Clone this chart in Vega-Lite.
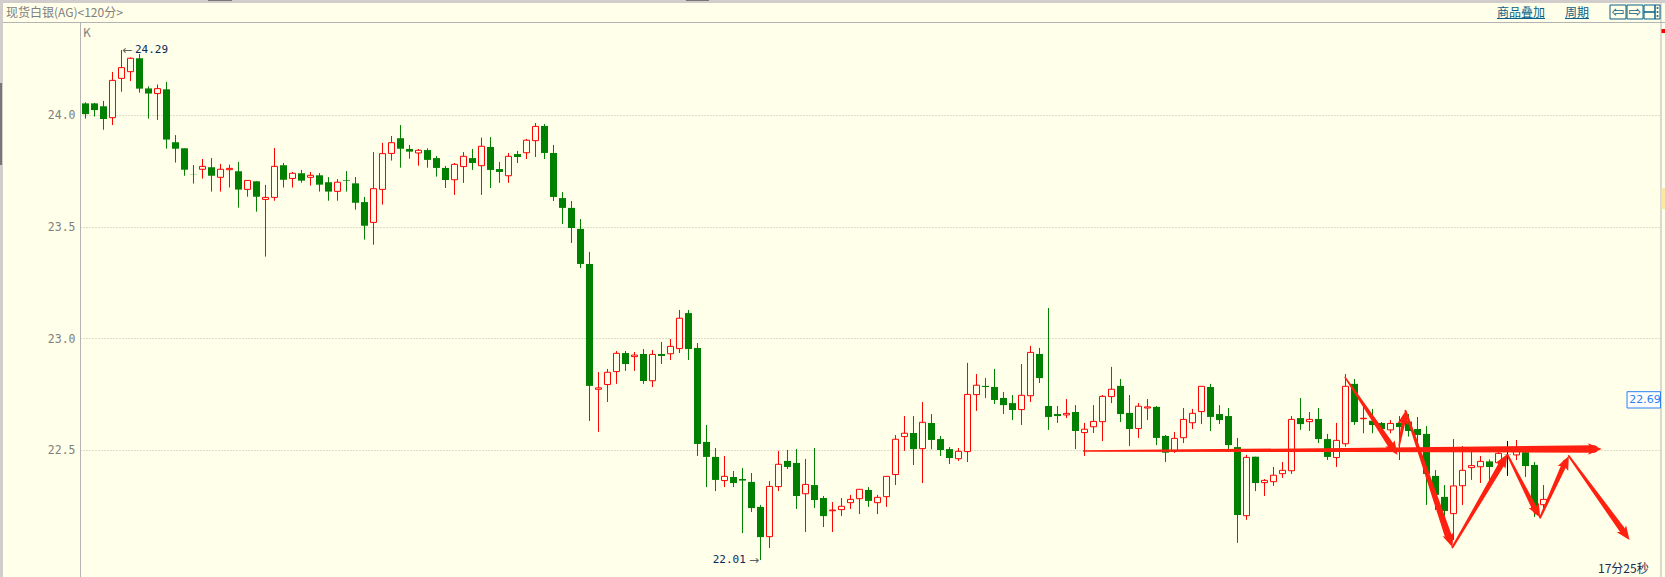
{
"$schema":"https://vega.github.io/schema/vega-lite/v6.json",
"autosize":{"type":"none"},
"padding":{"left":80,"top":22,"right":4,"bottom":0},
"width":1581,"height":555,
"background":"#FFFFEA",
"config":{"view":{"stroke":null}},
"datasets":{
"candles":[
{"i":0,"v":24.057,"t":24.052,"b":24.004,"lo":23.984,"dir":"down"},
{"i":1,"v":24.054,"t":24.052,"b":24.022,"lo":23.993,"dir":"down"},
{"i":2,"v":24.063,"t":24.039,"b":23.982,"lo":23.934,"dir":"down"},
{"i":3,"v":24.193,"t":24.155,"b":23.988,"lo":23.955,"dir":"up"},
{"i":4,"v":24.291,"t":24.212,"b":24.164,"lo":24.104,"dir":"up"},
{"i":5,"v":24.258,"t":24.254,"b":24.194,"lo":24.152,"dir":"up"},
{"i":6,"v":24.273,"t":24.254,"b":24.118,"lo":24.1,"dir":"down"},
{"i":7,"v":24.128,"t":24.119,"b":24.096,"lo":23.984,"dir":"down"},
{"i":8,"v":24.137,"t":24.118,"b":24.096,"lo":23.978,"dir":"up"},
{"i":9,"v":24.148,"t":24.115,"b":23.89,"lo":23.849,"dir":"down"},
{"i":10,"v":23.91,"t":23.878,"b":23.849,"lo":23.787,"dir":"down"},
{"i":11,"v":23.851,"t":23.851,"b":23.755,"lo":23.728,"dir":"down"},
{"i":12,"v":23.776,"t":23.734,"b":23.733,"lo":23.693,"dir":"down"},
{"i":13,"v":23.803,"t":23.77,"b":23.757,"lo":23.715,"dir":"up"},
{"i":14,"v":23.807,"t":23.766,"b":23.728,"lo":23.657,"dir":"down"},
{"i":15,"v":23.781,"t":23.757,"b":23.721,"lo":23.657,"dir":"up"},
{"i":16,"v":23.778,"t":23.761,"b":23.755,"lo":23.675,"dir":"up"},
{"i":17,"v":23.79,"t":23.748,"b":23.666,"lo":23.585,"dir":"down"},
{"i":18,"v":23.707,"t":23.707,"b":23.667,"lo":23.634,"dir":"up"},
{"i":19,"v":23.703,"t":23.703,"b":23.634,"lo":23.567,"dir":"down"},
{"i":20,"v":23.687,"t":23.631,"b":23.622,"lo":23.366,"dir":"up"},
{"i":21,"v":23.852,"t":23.77,"b":23.631,"lo":23.616,"dir":"up"},
{"i":22,"v":23.785,"t":23.775,"b":23.71,"lo":23.675,"dir":"down"},
{"i":23,"v":23.745,"t":23.739,"b":23.716,"lo":23.675,"dir":"up"},
{"i":24,"v":23.754,"t":23.739,"b":23.706,"lo":23.697,"dir":"down"},
{"i":25,"v":23.745,"t":23.73,"b":23.721,"lo":23.684,"dir":"up"},
{"i":26,"v":23.74,"t":23.73,"b":23.688,"lo":23.657,"dir":"down"},
{"i":27,"v":23.722,"t":23.699,"b":23.657,"lo":23.616,"dir":"down"},
{"i":28,"v":23.713,"t":23.699,"b":23.658,"lo":23.616,"dir":"up"},
{"i":29,"v":23.749,"t":23.709,"b":23.706,"lo":23.657,"dir":"down"},
{"i":30,"v":23.722,"t":23.694,"b":23.607,"lo":23.576,"dir":"down"},
{"i":31,"v":23.633,"t":23.61,"b":23.504,"lo":23.442,"dir":"down"},
{"i":32,"v":23.834,"t":23.67,"b":23.519,"lo":23.419,"dir":"up"},
{"i":33,"v":23.875,"t":23.827,"b":23.667,"lo":23.599,"dir":"up"},
{"i":34,"v":23.906,"t":23.876,"b":23.828,"lo":23.796,"dir":"up"},
{"i":35,"v":23.955,"t":23.896,"b":23.849,"lo":23.764,"dir":"down"},
{"i":36,"v":23.866,"t":23.848,"b":23.836,"lo":23.804,"dir":"down"},
{"i":37,"v":23.848,"t":23.842,"b":23.83,"lo":23.773,"dir":"up"},
{"i":38,"v":23.851,"t":23.843,"b":23.799,"lo":23.764,"dir":"down"},
{"i":39,"v":23.816,"t":23.807,"b":23.763,"lo":23.724,"dir":"down"},
{"i":40,"v":23.772,"t":23.763,"b":23.709,"lo":23.673,"dir":"down"},
{"i":41,"v":23.785,"t":23.779,"b":23.71,"lo":23.642,"dir":"up"},
{"i":42,"v":23.834,"t":23.815,"b":23.769,"lo":23.696,"dir":"up"},
{"i":43,"v":23.848,"t":23.807,"b":23.785,"lo":23.754,"dir":"down"},
{"i":44,"v":23.899,"t":23.86,"b":23.773,"lo":23.642,"dir":"up"},
{"i":45,"v":23.901,"t":23.857,"b":23.754,"lo":23.673,"dir":"down"},
{"i":46,"v":23.79,"t":23.758,"b":23.745,"lo":23.696,"dir":"down"},
{"i":47,"v":23.83,"t":23.815,"b":23.728,"lo":23.696,"dir":"up"},
{"i":48,"v":23.839,"t":23.825,"b":23.812,"lo":23.785,"dir":"down"},
{"i":49,"v":23.893,"t":23.887,"b":23.831,"lo":23.803,"dir":"up"},
{"i":50,"v":23.964,"t":23.949,"b":23.885,"lo":23.812,"dir":"up"},
{"i":51,"v":23.96,"t":23.951,"b":23.83,"lo":23.803,"dir":"down"},
{"i":52,"v":23.866,"t":23.83,"b":23.633,"lo":23.615,"dir":"down"},
{"i":53,"v":23.655,"t":23.628,"b":23.584,"lo":23.512,"dir":"down"},
{"i":54,"v":23.615,"t":23.584,"b":23.494,"lo":23.427,"dir":"down"},
{"i":55,"v":23.534,"t":23.49,"b":23.333,"lo":23.315,"dir":"down"},
{"i":56,"v":23.387,"t":23.333,"b":22.787,"lo":22.63,"dir":"down"},
{"i":57,"v":22.849,"t":22.778,"b":22.772,"lo":22.581,"dir":"up"},
{"i":58,"v":22.863,"t":22.848,"b":22.793,"lo":22.715,"dir":"up"},
{"i":59,"v":22.943,"t":22.933,"b":22.851,"lo":22.796,"dir":"up"},
{"i":60,"v":22.943,"t":22.934,"b":22.885,"lo":22.854,"dir":"down"},
{"i":61,"v":22.939,"t":22.925,"b":22.918,"lo":22.854,"dir":"up"},
{"i":62,"v":22.952,"t":22.93,"b":22.809,"lo":22.796,"dir":"down"},
{"i":63,"v":22.948,"t":22.928,"b":22.81,"lo":22.782,"dir":"up"},
{"i":64,"v":22.984,"t":22.93,"b":22.921,"lo":22.885,"dir":"down"},
{"i":65,"v":22.997,"t":22.964,"b":22.931,"lo":22.903,"dir":"up"},
{"i":66,"v":23.127,"t":23.09,"b":22.954,"lo":22.934,"dir":"up"},
{"i":67,"v":23.127,"t":23.113,"b":22.952,"lo":22.903,"dir":"down"},
{"i":68,"v":22.979,"t":22.957,"b":22.527,"lo":22.473,"dir":"down"},
{"i":69,"v":22.612,"t":22.536,"b":22.469,"lo":22.334,"dir":"down"},
{"i":70,"v":22.509,"t":22.469,"b":22.366,"lo":22.316,"dir":"down"},
{"i":71,"v":22.473,"t":22.382,"b":22.363,"lo":22.334,"dir":"up"},
{"i":72,"v":22.406,"t":22.379,"b":22.352,"lo":22.334,"dir":"down"},
{"i":73,"v":22.419,"t":22.37,"b":22.363,"lo":22.128,"dir":"down"},
{"i":74,"v":22.397,"t":22.357,"b":22.24,"lo":22.222,"dir":"down"},
{"i":75,"v":22.254,"t":22.245,"b":22.11,"lo":22.007,"dir":"down"},
{"i":76,"v":22.361,"t":22.337,"b":22.112,"lo":22.061,"dir":"up"},
{"i":77,"v":22.496,"t":22.436,"b":22.336,"lo":22.316,"dir":"up"},
{"i":78,"v":22.5,"t":22.451,"b":22.424,"lo":22.415,"dir":"down"},
{"i":79,"v":22.504,"t":22.442,"b":22.294,"lo":22.236,"dir":"down"},
{"i":80,"v":22.46,"t":22.346,"b":22.304,"lo":22.133,"dir":"up"},
{"i":81,"v":22.509,"t":22.343,"b":22.276,"lo":22.24,"dir":"down"},
{"i":82,"v":22.294,"t":22.285,"b":22.204,"lo":22.155,"dir":"down"},
{"i":83,"v":22.267,"t":22.231,"b":22.228,"lo":22.133,"dir":"up"},
{"i":84,"v":22.285,"t":22.248,"b":22.233,"lo":22.204,"dir":"up"},
{"i":85,"v":22.299,"t":22.279,"b":22.264,"lo":22.236,"dir":"up"},
{"i":86,"v":22.324,"t":22.324,"b":22.282,"lo":22.213,"dir":"up"},
{"i":87,"v":22.334,"t":22.321,"b":22.272,"lo":22.245,"dir":"down"},
{"i":88,"v":22.299,"t":22.288,"b":22.264,"lo":22.213,"dir":"up"},
{"i":89,"v":22.382,"t":22.382,"b":22.291,"lo":22.245,"dir":"up"},
{"i":90,"v":22.567,"t":22.548,"b":22.39,"lo":22.343,"dir":"up"},
{"i":91,"v":22.652,"t":22.575,"b":22.56,"lo":22.496,"dir":"up"},
{"i":92,"v":22.652,"t":22.576,"b":22.504,"lo":22.433,"dir":"down"},
{"i":93,"v":22.715,"t":22.624,"b":22.506,"lo":22.352,"dir":"up"},
{"i":94,"v":22.661,"t":22.621,"b":22.545,"lo":22.503,"dir":"down"},
{"i":95,"v":22.563,"t":22.549,"b":22.5,"lo":22.473,"dir":"down"},
{"i":96,"v":22.513,"t":22.504,"b":22.464,"lo":22.437,"dir":"down"},
{"i":97,"v":22.509,"t":22.494,"b":22.461,"lo":22.451,"dir":"up"},
{"i":98,"v":22.89,"t":22.749,"b":22.493,"lo":22.446,"dir":"up"},
{"i":99,"v":22.84,"t":22.79,"b":22.748,"lo":22.675,"dir":"up"},
{"i":100,"v":22.822,"t":22.787,"b":22.782,"lo":22.733,"dir":"down"},
{"i":101,"v":22.863,"t":22.782,"b":22.724,"lo":22.706,"dir":"down"},
{"i":102,"v":22.76,"t":22.733,"b":22.701,"lo":22.661,"dir":"down"},
{"i":103,"v":22.746,"t":22.71,"b":22.679,"lo":22.634,"dir":"down"},
{"i":104,"v":22.885,"t":22.745,"b":22.681,"lo":22.612,"dir":"up"},
{"i":105,"v":22.966,"t":22.937,"b":22.743,"lo":22.715,"dir":"up"},
{"i":106,"v":22.957,"t":22.93,"b":22.822,"lo":22.8,"dir":"down"},
{"i":107,"v":23.136,"t":22.697,"b":22.648,"lo":22.59,"dir":"down"},
{"i":108,"v":22.697,"t":22.661,"b":22.652,"lo":22.621,"dir":"down"},
{"i":109,"v":22.728,"t":22.664,"b":22.657,"lo":22.643,"dir":"up"},
{"i":110,"v":22.701,"t":22.67,"b":22.585,"lo":22.504,"dir":"down"},
{"i":111,"v":22.621,"t":22.593,"b":22.578,"lo":22.473,"dir":"up"},
{"i":112,"v":22.701,"t":22.628,"b":22.604,"lo":22.576,"dir":"up"},
{"i":113,"v":22.746,"t":22.74,"b":22.627,"lo":22.54,"dir":"up"},
{"i":114,"v":22.872,"t":22.772,"b":22.739,"lo":22.71,"dir":"up"},
{"i":115,"v":22.818,"t":22.787,"b":22.661,"lo":22.625,"dir":"down"},
{"i":116,"v":22.746,"t":22.666,"b":22.594,"lo":22.518,"dir":"down"},
{"i":117,"v":22.71,"t":22.696,"b":22.596,"lo":22.554,"dir":"up"},
{"i":118,"v":22.728,"t":22.693,"b":22.688,"lo":22.634,"dir":"up"},
{"i":119,"v":22.697,"t":22.693,"b":22.554,"lo":22.522,"dir":"down"},
{"i":120,"v":22.567,"t":22.563,"b":22.488,"lo":22.446,"dir":"down"},
{"i":121,"v":22.581,"t":22.552,"b":22.494,"lo":22.487,"dir":"up"},
{"i":122,"v":22.688,"t":22.637,"b":22.555,"lo":22.531,"dir":"up"},
{"i":123,"v":22.684,"t":22.664,"b":22.622,"lo":22.594,"dir":"up"},
{"i":124,"v":22.785,"t":22.785,"b":22.672,"lo":22.616,"dir":"up"},
{"i":125,"v":22.796,"t":22.782,"b":22.648,"lo":22.585,"dir":"down"},
{"i":126,"v":22.701,"t":22.661,"b":22.634,"lo":22.616,"dir":"down"},
{"i":127,"v":22.688,"t":22.652,"b":22.522,"lo":22.5,"dir":"down"},
{"i":128,"v":22.554,"t":22.513,"b":22.209,"lo":22.084,"dir":"down"},
{"i":129,"v":22.478,"t":22.467,"b":22.206,"lo":22.187,"dir":"up"},
{"i":130,"v":22.47,"t":22.47,"b":22.352,"lo":22.316,"dir":"down"},
{"i":131,"v":22.37,"t":22.364,"b":22.354,"lo":22.294,"dir":"up"},
{"i":132,"v":22.424,"t":22.387,"b":22.358,"lo":22.339,"dir":"up"},
{"i":133,"v":22.446,"t":22.409,"b":22.394,"lo":22.375,"dir":"up"},
{"i":134,"v":22.652,"t":22.637,"b":22.407,"lo":22.393,"dir":"up"},
{"i":135,"v":22.733,"t":22.643,"b":22.616,"lo":22.59,"dir":"down"},
{"i":136,"v":22.67,"t":22.637,"b":22.627,"lo":22.585,"dir":"up"},
{"i":137,"v":22.688,"t":22.639,"b":22.549,"lo":22.531,"dir":"down"},
{"i":138,"v":22.572,"t":22.549,"b":22.469,"lo":22.455,"dir":"down"},
{"i":139,"v":22.621,"t":22.543,"b":22.466,"lo":22.424,"dir":"up"},
{"i":140,"v":22.84,"t":22.785,"b":22.528,"lo":22.515,"dir":"up"},
{"i":141,"v":22.818,"t":22.796,"b":22.625,"lo":22.612,"dir":"down"},
{"i":142,"v":22.709,"t":22.642,"b":22.64,"lo":22.575,"dir":"up"},
{"i":143,"v":22.684,"t":22.631,"b":22.612,"lo":22.575,"dir":"down"},
{"i":144,"v":22.625,"t":22.621,"b":22.594,"lo":22.575,"dir":"down"},
{"i":145,"v":22.634,"t":22.619,"b":22.59,"lo":22.575,"dir":"up"},
{"i":146,"v":22.652,"t":22.621,"b":22.603,"lo":22.455,"dir":"down"},
{"i":147,"v":22.661,"t":22.627,"b":22.585,"lo":22.56,"dir":"down"},
{"i":148,"v":22.648,"t":22.594,"b":22.567,"lo":22.515,"dir":"down"},
{"i":149,"v":22.607,"t":22.572,"b":22.393,"lo":22.254,"dir":"down"},
{"i":150,"v":22.41,"t":22.384,"b":22.299,"lo":22.231,"dir":"down"},
{"i":151,"v":22.343,"t":22.29,"b":22.227,"lo":22.187,"dir":"down"},
{"i":152,"v":22.549,"t":22.339,"b":22.215,"lo":22.097,"dir":"up"},
{"i":153,"v":22.518,"t":22.409,"b":22.34,"lo":22.254,"dir":"up"},
{"i":154,"v":22.491,"t":22.43,"b":22.421,"lo":22.366,"dir":"up"},
{"i":155,"v":22.473,"t":22.449,"b":22.425,"lo":22.352,"dir":"up"},
{"i":156,"v":22.458,"t":22.449,"b":22.424,"lo":22.366,"dir":"down"},
{"i":157,"v":22.493,"t":22.485,"b":22.443,"lo":22.433,"dir":"up"},
{"i":158,"v":22.54,"t":22.479,"b":22.478,"lo":22.384,"dir":"flat"},
{"i":159,"v":22.545,"t":22.493,"b":22.478,"lo":22.455,"dir":"up"},
{"i":160,"v":22.515,"t":22.49,"b":22.428,"lo":22.379,"dir":"down"},
{"i":161,"v":22.446,"t":22.433,"b":22.231,"lo":22.2,"dir":"down"},
{"i":162,"v":22.343,"t":22.279,"b":22.255,"lo":22.239,"dir":"up"}
],
"arrows":[
{"arrow":"A","seq":1,"i":110.9,"v":22.4955,"weight":1.5},
{"arrow":"A","seq":2,"i":140,"v":22.5,"weight":4},
{"arrow":"A","seq":3,"i":167.6,"v":22.5045,"weight":7.5},
{"arrow":"B","seq":1,"i":139.96,"v":22.825,"weight":1.5},
{"arrow":"B","seq":2,"i":145.1,"v":22.518,"weight":6},
{"arrow":"C","seq":1,"i":145.96,"v":22.518,"weight":1.5},
{"arrow":"C","seq":2,"i":146.52,"v":22.645,"weight":4.5},
{"arrow":"D","seq":1,"i":146.67,"v":22.675,"weight":2},
{"arrow":"D","seq":2,"i":151.4,"v":22.118,"weight":7},
{"arrow":"E","seq":1,"i":151.89,"v":22.064,"weight":2},
{"arrow":"E","seq":2,"i":157.5,"v":22.448,"weight":6},
{"arrow":"F","seq":1,"i":158,"v":22.478,"weight":2},
{"arrow":"F","seq":2,"i":161.2,"v":22.224,"weight":5.5},
{"arrow":"G","seq":1,"i":161.63,"v":22.197,"weight":2},
{"arrow":"G","seq":2,"i":164.42,"v":22.445,"weight":5.5},
{"arrow":"H","seq":1,"i":164.81,"v":22.473,"weight":2},
{"arrow":"H","seq":2,"i":170.7,"v":22.145,"weight":6}
],
"heads":[
{"arrow":"A","i":168.48,"v":22.5045,"heading":90},
{"arrow":"B","i":145.78,"v":22.478,"heading":146},
{"arrow":"C","i":146.67,"v":22.675,"heading":10.3},
{"arrow":"D","i":151.89,"v":22.064,"heading":161},
{"arrow":"E","i":158,"v":22.482,"heading":30.5},
{"arrow":"F","i":161.63,"v":22.197,"heading":152.5},
{"arrow":"G","i":164.81,"v":22.473,"heading":24.9},
{"arrow":"H","i":171.56,"v":22.097,"heading":144.2}
],
"frame":[
{"part":"edge","i":-9.5,"i2":175.5,"v":24.5149,"v2":24.5015},
{"part":"edge","i":-9.5,"i2":-9.1667,"v":24.5149,"v2":21.9313},
{"part":"dark","i":-9.5,"i2":-9.278,"v":24.1433,"v2":23.7761},
{"part":"dark","i":13.61,"i2":16.28,"v":24.5149,"v2":24.5104},
{"part":"dark","i":66.72,"i2":69.28,"v":24.5149,"v2":24.5104},
{"part":"line","i":-9.1667,"i2":175.5,"v":24.4164,"v2":24.4119},
{"part":"line","i":175.0,"i2":175.11,"v":24.5015,"v2":21.9313},
{"part":"mark","i":175.11,"i2":175.5,"v":24.385,"v2":24.367},
{"part":"tan","i":175.11,"i2":175.5,"v":23.673,"v2":23.579}
],
"boxes":[
{"name":"back","i":169.39,"i2":171.17,"v":24.4925,"v2":24.4299},
{"name":"forward","i":171.28,"i2":173.06,"v":24.4925,"v2":24.4299},
{"name":"layoutA","i":173.17,"i2":174.39,"v":24.4925,"v2":24.4612},
{"name":"layoutB","i":173.17,"i2":174.39,"v":24.4612,"v2":24.4299},
{"name":"layoutC","i":174.39,"i2":174.95,"v":24.4925,"v2":24.4299}
],
"dots":[
{"i":174.67,"v":24.4791},
{"i":174.67,"v":24.4612},
{"i":174.67,"v":24.4433}
],
"underlines":[
{"i":156.83,"i2":162.17,"v":24.4321},
{"i":164.39,"i2":167.06,"v":24.4321}
],
"priceBox":[{"i":171.28,"i2":175.0,"v":22.761,"v2":22.688}],
"notes":[
{"kind":"head","i":-8.833,"v":24.4567,"label":"现货白银(AG)<120分>"},
{"kind":"link","i":156.83,"v":24.4567,"label":"商品叠加"},
{"kind":"link","i":164.39,"v":24.4567,"label":"周期"},
{"kind":"icon","i":170.28,"v":24.4612,"label":"⇦"},
{"kind":"icon","i":172.17,"v":24.4612,"label":"⇨"},
{"kind":"k","i":-0.28,"v":24.367,"label":"K"},
{"kind":"pointer","i":4.11,"v":24.289,"label":"←"},
{"kind":"extreme","i":5.5,"v":24.289,"label":"24.29"},
{"kind":"extreme","i":69.69,"v":22.0074,"label":"22.01"},
{"kind":"pointer","i":73.72,"v":22.0074,"label":"→"},
{"kind":"price","i":171.53,"v":22.7239,"label":"22.69"},
{"kind":"timer","i":168.06,"v":21.968,"label":"17分25秒"}
]
},
"encoding":{
 "x":{"field":"i","type":"quantitative","scale":{"domain":[-0.6111,175.056],"nice":false,"zero":false,"padding":0},"axis":null},
 "y":{"field":"v","type":"quantitative","scale":{"domain":[21.9313,24.4164],"nice":false,"zero":false},
  "axis":{"values":[22.5,23,23.5,24],"format":".1f","title":null,"orient":"left","ticks":false,"labelPadding":5,"labelOffset":1,"labelColor":"#808080","labelFont":"DejaVu Sans Mono","labelFontSize":11.5,"domainColor":"#B4B4B4","domainWidth":1,"grid":true,"gridColor":"#BDBDAD","gridDash":[1,2],"gridWidth":1}}
},
"layer":[
{"data":{"name":"frame"},"mark":{"type":"rect"},
 "encoding":{
  "x2":{"field":"i2"},
  "y2":{"field":"v2"},
  "color":{"field":"part","type":"nominal","legend":null,"scale":{"domain":["edge","dark","line","mark","tan"],"range":["#D2CDCD","#777777","#B4B4B4","#FF0000","#F9E9A2"]}}
 }},
{"data":{"name":"candles"},"mark":{"type":"rule","strokeWidth":1},
 "encoding":{
  "y2":{"field":"lo"},
  "color":{"field":"dir","type":"nominal","legend":null,"scale":{"domain":["up","down","flat"],"range":["#FF0000","#008000","#000000"]}}
 }},
{"data":{"name":"candles"},"transform":[{"filter":"datum.dir !== 'up'"}],"mark":{"type":"bar","size":7,"orient":"vertical"},
 "encoding":{
  "y":{"field":"t","type":"quantitative","scale":{"domain":[21.9313,24.4164],"nice":false,"zero":false},
   "axis":{"values":[22.5,23,23.5,24],"format":".1f","title":null,"orient":"left","ticks":false,"labelPadding":5,"labelOffset":1,"labelColor":"#808080","labelFont":"DejaVu Sans Mono","labelFontSize":11.5,"domainColor":"#B4B4B4","domainWidth":1,"grid":true,"gridColor":"#BDBDAD","gridDash":[1,2],"gridWidth":1}},
  "y2":{"field":"b"},
  "color":{"field":"dir","type":"nominal","legend":null,"scale":{"domain":["up","down","flat"],"range":["#FF0000","#008000","#000000"]}}
 }},
{"data":{"name":"candles"},"transform":[{"filter":"datum.dir === 'up'"}],"mark":{"type":"bar","size":6,"orient":"vertical","fill":"#FFFFEA","stroke":"#FF0000","strokeWidth":1},
 "encoding":{
  "y":{"field":"t","type":"quantitative","scale":{"domain":[21.9313,24.4164],"nice":false,"zero":false},
   "axis":{"values":[22.5,23,23.5,24],"format":".1f","title":null,"orient":"left","ticks":false,"labelPadding":5,"labelOffset":1,"labelColor":"#808080","labelFont":"DejaVu Sans Mono","labelFontSize":11.5,"domainColor":"#B4B4B4","domainWidth":1,"grid":true,"gridColor":"#BDBDAD","gridDash":[1,2],"gridWidth":1}},
  "y2":{"field":"b"}
 }},
{"data":{"name":"arrows"},"mark":{"type":"trail","color":"#FF2010"},
 "encoding":{
  "detail":{"field":"arrow"},
  "order":{"field":"seq","type":"quantitative"},
  "size":{"field":"weight","type":"quantitative","legend":null,"scale":{"domain":[0,12],"range":[0,12]}}
 }},
{"data":{"name":"heads"},"mark":{"type":"point","filled":true,"opacity":1,"color":"#FF2010","size":529,"shape":"M0,0L0.5,1.2L0,0.95L-0.5,1.2Z"},
 "encoding":{
  "angle":{"field":"heading","type":"quantitative","scale":{"domain":[0,360],"range":[0,360]},"legend":null}
 }},
{"data":{"name":"priceBox"},"mark":{"type":"rect","fill":"#FFFFFF","stroke":"#2B7FF0","strokeWidth":1},
 "encoding":{"x2":{"field":"i2"},"y2":{"field":"v2"}}},
{"data":{"name":"boxes"},"mark":{"type":"rect","fill":null,"stroke":"#0A5F87","strokeWidth":1},
 "encoding":{"x2":{"field":"i2"},"y2":{"field":"v2"}}},
{"data":{"name":"dots"},"mark":{"type":"square","color":"#0A5F87","size":3,"opacity":1}},
{"data":{"name":"underlines"},"mark":{"type":"rule","color":"#0A5F87","strokeWidth":1},
 "encoding":{"x2":{"field":"i2"}}},
{"data":{"name":"notes"},"transform":[{"filter":"datum.kind === 'head' || datum.kind === 'k'"}],
 "mark":{"type":"text","align":"left","baseline":"middle","font":"Noto Sans CJK SC","fontSize":12,"color":"#808080"},
 "encoding":{"text":{"field":"label"}}},
{"data":{"name":"notes"},"transform":[{"filter":"datum.kind === 'link'"}],
 "mark":{"type":"text","align":"left","baseline":"middle","font":"Noto Sans CJK SC","fontSize":12,"color":"#0A5F87"},
 "encoding":{"text":{"field":"label"}}},
{"data":{"name":"notes"},"transform":[{"filter":"datum.kind === 'icon'"}],
 "mark":{"type":"text","align":"center","baseline":"middle","font":"DejaVu Sans","fontSize":15,"color":"#0A5F87"},
 "encoding":{"text":{"field":"label"}}},
{"data":{"name":"notes"},"transform":[{"filter":"datum.kind === 'pointer'"}],
 "mark":{"type":"text","align":"left","baseline":"middle","font":"DejaVu Sans","fontSize":12,"color":"#606060"},
 "encoding":{"text":{"field":"label"}}},
{"data":{"name":"notes"},"transform":[{"filter":"datum.kind === 'extreme'"}],
 "mark":{"type":"text","align":"left","baseline":"middle","font":"DejaVu Sans Mono","fontSize":11,"color":"#0A2A5A"},
 "encoding":{"text":{"field":"label"}}},
{"data":{"name":"notes"},"transform":[{"filter":"datum.kind === 'price'"}],
 "mark":{"type":"text","align":"left","baseline":"middle","font":"DejaVu Sans","fontSize":11,"color":"#2B7FF0"},
 "encoding":{"text":{"field":"label"}}},
{"data":{"name":"notes"},"transform":[{"filter":"datum.kind === 'timer'"}],
 "mark":{"type":"text","align":"left","baseline":"middle","font":"Noto Sans CJK SC","fontSize":12,"color":"#1A2A50"},
 "encoding":{"text":{"field":"label"}}}
],
"resolve":{"scale":{"color":"independent"}}
}
